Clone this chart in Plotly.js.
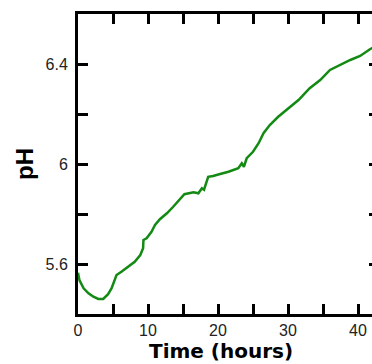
<!DOCTYPE html>
<html>
<head>
<meta charset="utf-8">
<script src="https://cdn.plot.ly/plotly-3.0.1.min.js"></script>
<style>
html,body{margin:0;padding:0;overflow:hidden;background:#fff;}
#chart{width:382px;height:364px;}
</style>
</head>
<body>
<div id="chart"></div>
<script>
// Data
var timeHours = [0,0.2,0.8,1.5,2.2,2.9,3.6,4.3,4.8,5.5,6.2,7.2,8.1,8.9,9.3,9.35,9.8,10.5,11,11.7,12.7,13.6,14.6,15.2,16.5,17.2,17.7,18.0,18.6,19.3,20.3,21.5,22.9,23.4,23.7,24.1,25.0,25.8,26.5,27.4,28.6,29.8,30.3,31.5,33.1,34.6,36,37.4,38.9,40.3,41.7,42.5];
var phValues = [5.565,5.536,5.503,5.483,5.469,5.46,5.46,5.479,5.503,5.556,5.569,5.589,5.609,5.636,5.663,5.696,5.703,5.729,5.756,5.779,5.803,5.829,5.859,5.879,5.887,5.883,5.903,5.897,5.949,5.952,5.96,5.969,5.983,6.003,5.989,6.023,6.049,6.083,6.123,6.156,6.189,6.216,6.229,6.256,6.303,6.336,6.376,6.396,6.416,6.432,6.459,6.47];

var xTickVals = [0,5,10,15,20,25,30,35,40];
var xTickText = ['0','','10','','20','','30','','40'];
var yTickVals = [5.6,5.8,6.0,6.2,6.4];
var yTickText = ['5.6','','6','','6.4'];
var xTitle = 'Time (hours)';
var yTitle = 'pH';

var trace = {
  x: timeHours,
  y: phValues,
  type: 'scatter',
  mode: 'lines',
  line: {color: '#138a13', width: 2.5},
  hoverinfo: 'skip'
};

var axisCommon = {
  showgrid: false,
  zeroline: false,
  showline: true,
  linecolor: '#000',
  linewidth: 3,
  mirror: 'ticks',
  ticks: 'inside',
  ticklen: 10,
  tickwidth: 3,
  tickcolor: '#000',
  tickfont: {family: 'Liberation Sans, Arial, sans-serif', size: 16, color: '#222'}
};

var layout = {
  width: 382,
  height: 364,
  margin: {l: 78, r: 3, t: 14, b: 50},
  paper_bgcolor: '#fff',
  plot_bgcolor: '#fff',
  showlegend: false,
  xaxis: Object.assign({}, axisCommon, {
    range: [0, 43],
    tickmode: 'array',
    tickvals: xTickVals,
    ticktext: xTickText,
    ticklabelstandoff: 0
  }),
  yaxis: Object.assign({}, axisCommon, {
    range: [5.4, 6.6],
    tickmode: 'array',
    tickvals: yTickVals,
    ticktext: yTickText,
    ticklabelstandoff: 4,
    title: {text: yTitle, standoff: 6,
      font: {family: 'Liberation Sans, Arial, sans-serif', size: 24, color: '#000', weight: 'bold'}}
  }),
  annotations: [{
    text: '<b>' + xTitle + '</b>',
    xref: 'paper', yref: 'paper',
    x: 0.475, y: -0.1667,
    xanchor: 'center', yanchor: 'bottom',
    showarrow: false, borderpad: 0,
    font: {family: 'DejaVu Sans, sans-serif', size: 20, color: '#000'}
  }]
};

Plotly.newPlot('chart', [trace], layout, {staticPlot: true, displayModeBar: false});
</script>
</body>
</html>
